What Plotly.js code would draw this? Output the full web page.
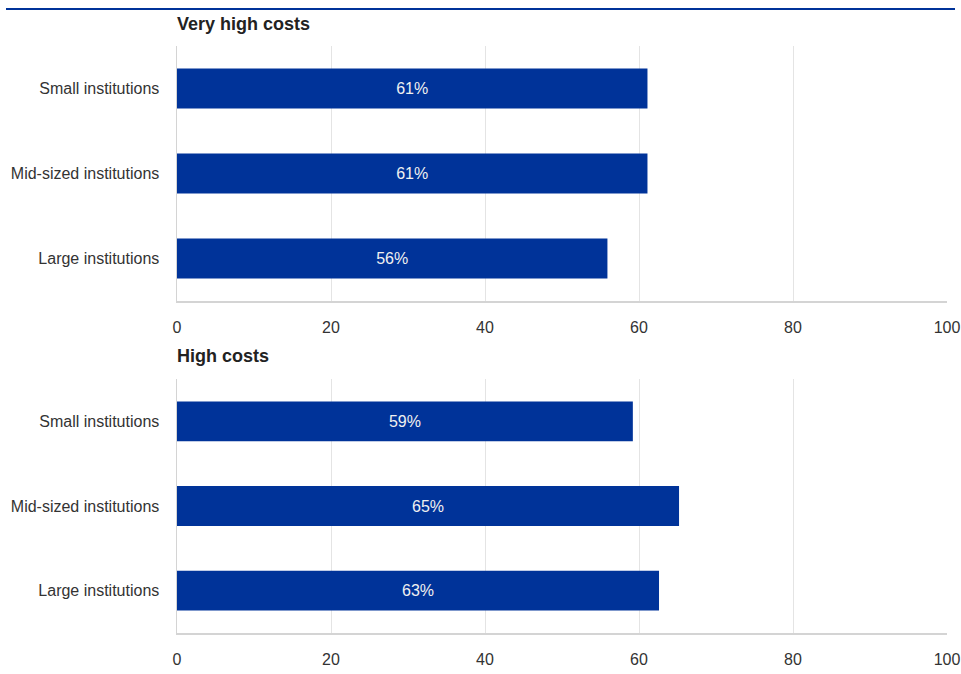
<!DOCTYPE html>
<html>
<head>
<meta charset="utf-8">
<script src="https://cdn.plot.ly/plotly-3.0.1.min.js"></script>
<style>html,body{margin:0;padding:0;background:#fff;}#chart{width:961px;height:674px;}</style>
</head>
<body>
<div id="chart"></div>
<script>
const categories = ["Small institutions", "Mid-sized institutions", "Large institutions"];
const veryHighCosts = [61.1, 61.1, 55.9];
const veryHighLabels = ["61%", "61%", "56%"];
const highCosts = [59.2, 65.2, 62.6];
const highLabels = ["59%", "65%", "63%"];
const panelTitles = ["Very high costs", "High costs"];
const xTicks = [0, 20, 40, 60, 80, 100];

const W = 961, H = 674, L = 177, R = 14;
const py = p => 1 - p / H;
const px = p => (p - L) / (W - L - R);
const blue = "#003399";
const font = {family: "Liberation Sans, Arial, sans-serif", color: "#333"};

function barTrace(vals, labels, xa, ya) {
  return {
    type: "bar", orientation: "h", y: categories, x: vals,
    text: labels, textposition: "inside", insidetextanchor: "middle",
    textfont: {family: font.family, size: 16, color: "#f0f0f0"},
    marker: {color: blue}, width: 0.47,
    xaxis: xa, yaxis: ya, hoverinfo: "skip", cliponaxis: false
  };
}

const xCommon = {
  range: [0, 100], tickvals: xTicks, ticktext: xTicks.map(String),
  showgrid: true, gridcolor: "#e4e4e4", gridwidth: 1,
  showline: true, linecolor: "#d4d4d4", linewidth: 1.5,
  zeroline: false, ticks: "", ticklabelstandoff: 11,
  tickfont: {family: font.family, size: 16, color: "#333"}, fixedrange: true
};
const yCommon = {
  autorange: "reversed", showline: true, linecolor: "#d4d4d4", linewidth: 1.5,
  showgrid: false, ticks: "", ticklabelstandoff: 13,
  tickfont: {family: font.family, size: 16, color: "#333"}, fixedrange: true
};

const layout = {
  width: W, height: H,
  margin: {l: L, r: R, t: 0, b: 0},
  paper_bgcolor: "#fff", plot_bgcolor: "#fff",
  showlegend: false, font: font, bargap: 0.53,
  xaxis: Object.assign({}, xCommon, {anchor: "y"}),
  yaxis: Object.assign({}, yCommon, {anchor: "x", domain: [py(301), py(46)]}),
  xaxis2: Object.assign({}, xCommon, {anchor: "y2"}),
  yaxis2: Object.assign({}, yCommon, {anchor: "x2", domain: [py(633), py(379)]}),
  annotations: [
    {text: "<b>" + panelTitles[0] + "</b>", xref: "paper", yref: "paper", x: px(175), y: py(24),
     xanchor: "left", yanchor: "middle", showarrow: false, font: {family: font.family, size: 18, color: "#222"}},
    {text: "<b>" + panelTitles[1] + "</b>", xref: "paper", yref: "paper", x: px(175), y: py(356),
     xanchor: "left", yanchor: "middle", showarrow: false, font: {family: font.family, size: 18, color: "#222"}}
  ],
  shapes: [
    {type: "line", xref: "paper", yref: "paper", x0: px(6), x1: px(955), y0: py(9), y1: py(9),
     line: {color: blue, width: 2}}
  ]
};

Plotly.newPlot("chart", [
  barTrace(veryHighCosts, veryHighLabels, "x", "y"),
  barTrace(highCosts, highLabels, "x2", "y2")
], layout, {staticPlot: true, displayModeBar: false});
</script>
</body>
</html>
